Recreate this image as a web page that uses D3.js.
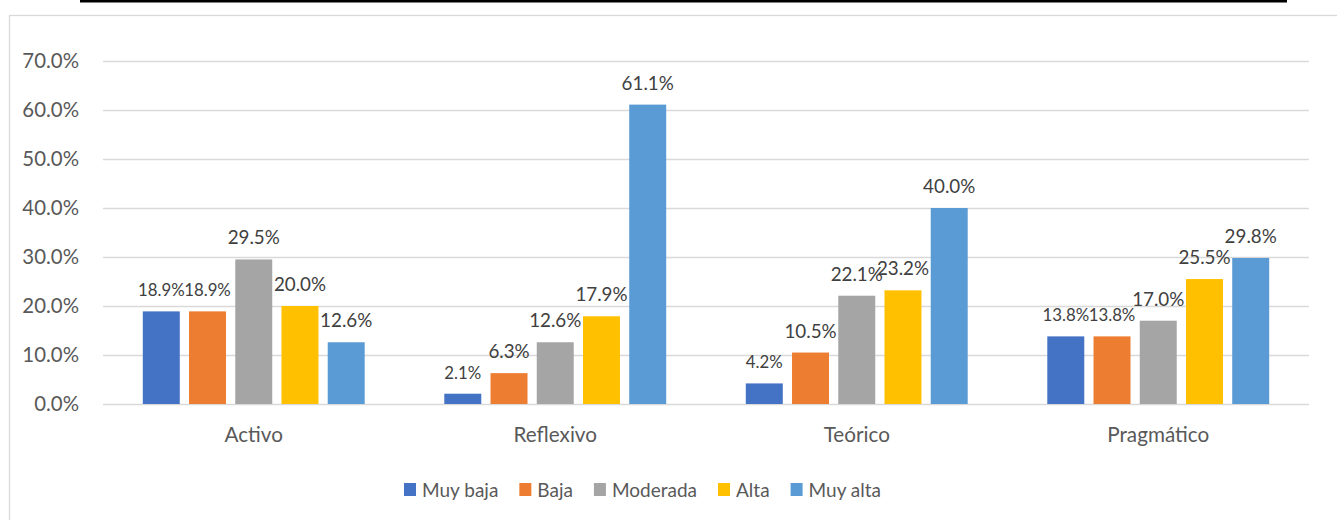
<!DOCTYPE html>
<html lang="es">
<head>
<meta charset="UTF-8">
<title>Estilos de aprendizaje</title>
<script src="https://cdn.jsdelivr.net/npm/d3@7"></script>
<style>
    body { margin: 0; background: #fff; }
    text { font-family: Lato, "Open Sans", sans-serif; fill: #595959; }
    .grid line { stroke: #d9d9d9; stroke-width: 1.3; }
    .grid text { font-size: 20.4px; }
    .cats text { font-size: 20.7px; }
    .lbl { font-size: 18.8px; fill: #404040; }
    .lbl.small { font-size: 16.8px; }
    .legend text { font-size: 19px; }
</style>
</head>
<body>
<svg width="1337" height="520"></svg>
<script>
    // data
    const categories = ["Activo", "Reflexivo", "Teórico", "Pragmático"];
    const series = ["Muy baja", "Baja", "Moderada", "Alta", "Muy alta"];
    const muyBaja = [0.189, 0.021, 0.042, 0.138];
    const baja    = [0.189, 0.063, 0.105, 0.138];
    const moderada = [0.295, 0.126, 0.221, 0.170];
    const alta    = [0.200, 0.179, 0.232, 0.255];
    const muyAlta = [0.126, 0.611, 0.400, 0.298];
    const yTicks = [0, 0.1, 0.2, 0.3, 0.4, 0.5, 0.6, 0.7];

    const colors = ["#4472C4", "#ED7D31", "#A5A5A5", "#FFC000", "#5B9BD5"];
    // labels Excel shrank to fit
    const smallLabels = new Set(["Activo|Muy baja", "Activo|Baja", "Reflexivo|Muy baja",
                                 "Teórico|Muy baja", "Pragmático|Muy baja", "Pragmático|Baja"]);

    const values = [muyBaja, baja, moderada, alta, muyAlta];
    const rows = [];
    categories.forEach((c, i) => series.forEach((s, j) =>
        rows.push({cat: c, ser: s, v: values[j][i], col: colors[j]})));

    const svg = d3.select("svg");
    const plot = {left: 103, right: 1309, top: 61, bottom: 404};

    // top rule and chart frame
    svg.append("rect").attr("x", 80).attr("y", 0).attr("width", 1207).attr("height", 2.5).attr("fill", "#000");
    svg.append("rect").attr("x", 9.5).attr("y", 15.5).attr("width", 1340).attr("height", 520)
       .attr("fill", "none").attr("stroke", "#d9d9d9").attr("stroke-width", 1.3);

    const y = d3.scaleLinear().domain([0, 0.7]).range([plot.bottom, plot.top]);
    const x0 = d3.scaleBand().domain(categories).range([plot.left, plot.right])
                 .paddingInner(0.264).paddingOuter(0.132);
    const x1 = d3.scaleBand().domain(series).range([0, x0.bandwidth()]).paddingInner(0.2);

    svg.append("g").attr("class", "grid")
       .attr("transform", `translate(${plot.left},0)`)
       .call(d3.axisLeft(y).tickValues(yTicks).tickFormat(d3.format(".1%"))
               .tickSize(-(plot.right - plot.left)).tickPadding(24))
       .call(g => g.select(".domain").remove());

    svg.append("g").attr("class", "cats")
       .attr("transform", `translate(0,${plot.bottom})`)
       .call(d3.axisBottom(x0).tickSize(0).tickPadding(23))
       .call(g => g.select(".domain").remove());

    svg.append("g").selectAll("rect")
       .data(rows)
       .join("rect")
         .attr("x", d => x0(d.cat) + x1(d.ser))
         .attr("y", d => y(d.v))
         .attr("width", x1.bandwidth())
         .attr("height", d => y(0) - y(d.v))
         .attr("fill", d => d.col);

    svg.append("g").selectAll("text")
       .data(rows)
       .join("text")
         .attr("class", d => smallLabels.has(d.cat + "|" + d.ser) ? "lbl small" : "lbl")
         .attr("x", d => x0(d.cat) + x1(d.ser) + x1.bandwidth() / 2)
         .attr("y", d => y(d.v) - 15)
         .attr("text-anchor", "middle")
         .text(d => d3.format(".1%")(d.v));

    // legend, laid out from measured text widths
    const legend = svg.append("g").attr("class", "legend");
    let lx = 404;
    series.forEach((s, j) => {
        legend.append("rect").attr("x", lx).attr("y", 483).attr("width", 12).attr("height", 13)
              .attr("fill", colors[j]);
        const t = legend.append("text").attr("x", lx + 18).attr("y", 497).text(s);
        lx += 18 + t.node().getComputedTextLength() + 21;
    });
</script>
</body>
</html>
